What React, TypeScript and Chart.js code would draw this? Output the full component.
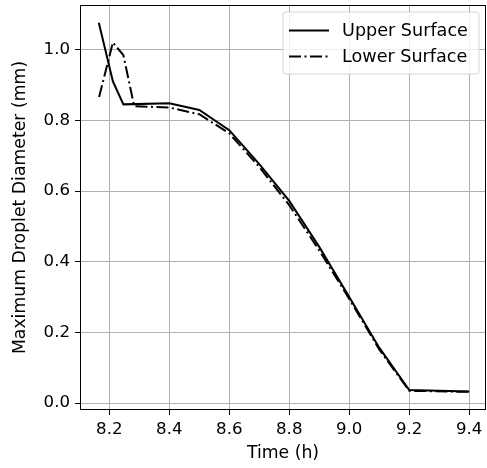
import React, { useEffect, useRef } from "react";
import { Chart, registerables } from "chart.js";

Chart.register(...registerables);

// ---- data ----
const upperTime = [8.165, 8.212, 8.247, 8.4, 8.5, 8.6, 8.7, 8.8, 8.9, 9.0, 9.1, 9.2, 9.4];
const upperDiameter = [1.076, 0.91, 0.845, 0.848, 0.829, 0.772, 0.676, 0.572, 0.442, 0.3, 0.157, 0.037, 0.033];

const lowerTime = [8.166, 8.212, 8.247, 8.283, 8.4, 8.5, 8.6, 8.7, 8.8, 8.9, 9.0, 9.1, 9.2, 9.4];
const lowerDiameter = [0.866, 1.02, 0.984, 0.84, 0.836, 0.817, 0.763, 0.668, 0.56, 0.432, 0.295, 0.152, 0.035, 0.032];

const seriesLabels = ["Upper Surface", "Lower Surface"];
const xTicks = [8.2, 8.4, 8.6, 8.8, 9.0, 9.2, 9.4];
const yTicks = [0.0, 0.2, 0.4, 0.6, 0.8, 1.0];
const xTitle = "Time (h)";
const yTitle = "Maximum Droplet Diameter (mm)";

const FONT_FAMILY = "'DejaVu Sans', sans-serif";
const TICK_SIZE = 16.6;
const TITLE_SIZE = 17.3;
const LEGEND_SIZE = 17.6;

const framePlugin = {
  id: "frame",
  afterDatasetsDraw(chart: any) {
    const { ctx, chartArea } = chart;
    const { left, right, top, bottom } = chartArea;
    ctx.save();
    ctx.strokeStyle = "#000";
    ctx.lineWidth = 1;
    ctx.strokeRect(left + 0.5, top + 0.5, right - left - 1, bottom - top - 1);
    ctx.restore();
  },
};

const legendPlugin = {
  id: "mplLegend",
  afterDraw(chart: any) {
    const { ctx, chartArea } = chart;
    const boxRight = chartArea.right - 7;
    const boxTop = chartArea.top + 7;
    const boxW = 196;
    const boxH = 62;
    const boxLeft = boxRight - boxW;
    ctx.save();
    ctx.beginPath();
    const r = 3;
    ctx.moveTo(boxLeft + r, boxTop);
    ctx.lineTo(boxRight - r, boxTop);
    ctx.arcTo(boxRight, boxTop, boxRight, boxTop + r, r);
    ctx.lineTo(boxRight, boxTop + boxH - r);
    ctx.arcTo(boxRight, boxTop + boxH, boxRight - r, boxTop + boxH, r);
    ctx.lineTo(boxLeft + r, boxTop + boxH);
    ctx.arcTo(boxLeft, boxTop + boxH, boxLeft, boxTop + boxH - r, r);
    ctx.lineTo(boxLeft, boxTop + r);
    ctx.arcTo(boxLeft, boxTop, boxLeft + r, boxTop, r);
    ctx.closePath();
    ctx.fillStyle = "rgba(255,255,255,0.8)";
    ctx.fill();
    ctx.strokeStyle = "rgba(204,204,204,0.8)";
    ctx.lineWidth = 1;
    ctx.stroke();

    const rows = [boxTop + 18.5, boxTop + 44.5];
    chart.data.datasets.forEach((ds: any, i: number) => {
      const y = rows[i];
      ctx.beginPath();
      ctx.setLineDash(ds.borderDash || []);
      ctx.strokeStyle = ds.borderColor;
      ctx.lineWidth = ds.borderWidth;
      ctx.moveTo(boxLeft + 6, y);
      ctx.lineTo(boxLeft + 46, y);
      ctx.stroke();
      ctx.setLineDash([]);
      ctx.fillStyle = "#000";
      ctx.font = `${LEGEND_SIZE}px ${FONT_FAMILY}`;
      ctx.textAlign = "left";
      ctx.textBaseline = "middle";
      ctx.fillText(ds.label, boxLeft + 59, y + 1);
    });
    ctx.restore();
  },
};

export default function App() {
  const canvasRef = useRef<HTMLCanvasElement | null>(null);

  useEffect(() => {
    const canvas = canvasRef.current;
    if (!canvas) return;
    const tickFont = { family: FONT_FAMILY, size: TICK_SIZE };
    const titleFont = { family: FONT_FAMILY, size: TITLE_SIZE };
    const chart = new Chart(canvas, {
      type: "line",
      data: {
        datasets: [
          {
            label: seriesLabels[0],
            data: upperTime.map((t, i) => ({ x: t, y: upperDiameter[i] })),
            borderColor: "#000",
            backgroundColor: "#000",
            borderWidth: 2,
            pointRadius: 0,
            tension: 0,
            fill: false,
          },
          {
            label: seriesLabels[1],
            data: lowerTime.map((t, i) => ({ x: t, y: lowerDiameter[i] })),
            borderColor: "#000",
            backgroundColor: "#000",
            borderWidth: 2,
            borderDash: [12, 3.5, 2, 3.5],
            pointRadius: 0,
            tension: 0,
            fill: false,
          },
        ],
      },
      options: {
        animation: false,
        responsive: false,
        maintainAspectRatio: false,
        layout: { padding: { left: 0, right: 1, top: 5, bottom: 0 } },
        plugins: {
          legend: { display: false },
          tooltip: { enabled: false },
        },
        scales: {
          x: {
            type: "linear",
            min: 8.1023,
            max: 9.456,
            afterBuildTicks: (s: any) => {
              s.ticks = xTicks.map((v) => ({ value: v }));
            },
            afterFit: (s: any) => {
              s.height = 58;
              s.paddingLeft = 0;
              s.paddingRight = 0;
            },
            ticks: {
              color: "#000",
              font: tickFont,
              padding: 5,
              maxRotation: 0,
              autoSkip: false,
              callback: (v: any) => Number(v).toFixed(1),
            },
            grid: {
              color: "#b0b0b0",
              lineWidth: 1,
              tickColor: "#000",
              tickLength: 5,
              drawTicks: true,
            },
            border: { display: false },
            title: {
              display: true,
              text: xTitle,
              color: "#000",
              font: titleFont,
              padding: { top: 2, bottom: 4 },
            },
          },
          y: {
            type: "linear",
            min: -0.0193,
            max: 1.126,
            afterBuildTicks: (s: any) => {
              s.ticks = yTicks.map((v) => ({ value: v }));
            },
            afterFit: (s: any) => {
              s.width = 80;
              s.paddingTop = 0;
              s.paddingBottom = 0;
            },
            ticks: {
              color: "#000",
              font: tickFont,
              padding: 5,
              autoSkip: false,
              callback: (v: any) => Number(v).toFixed(1),
            },
            grid: {
              color: "#b0b0b0",
              lineWidth: 1,
              tickColor: "#000",
              tickLength: 5,
              drawTicks: true,
            },
            border: { display: false },
            title: {
              display: true,
              text: yTitle,
              color: "#000",
              font: titleFont,
              padding: { top: 10, bottom: 2 },
            },
          },
        },
      },
      plugins: [framePlugin, legendPlugin],
    } as any);
    return () => chart.destroy();
  }, []);

  return (
    <div style={{ position: "fixed", left: 0, top: 0, width: 487, height: 468, background: "#fff" }}>
      <canvas ref={canvasRef} width={487} height={468} style={{ display: "block", width: 487, height: 468 }} />
    </div>
  );
}
